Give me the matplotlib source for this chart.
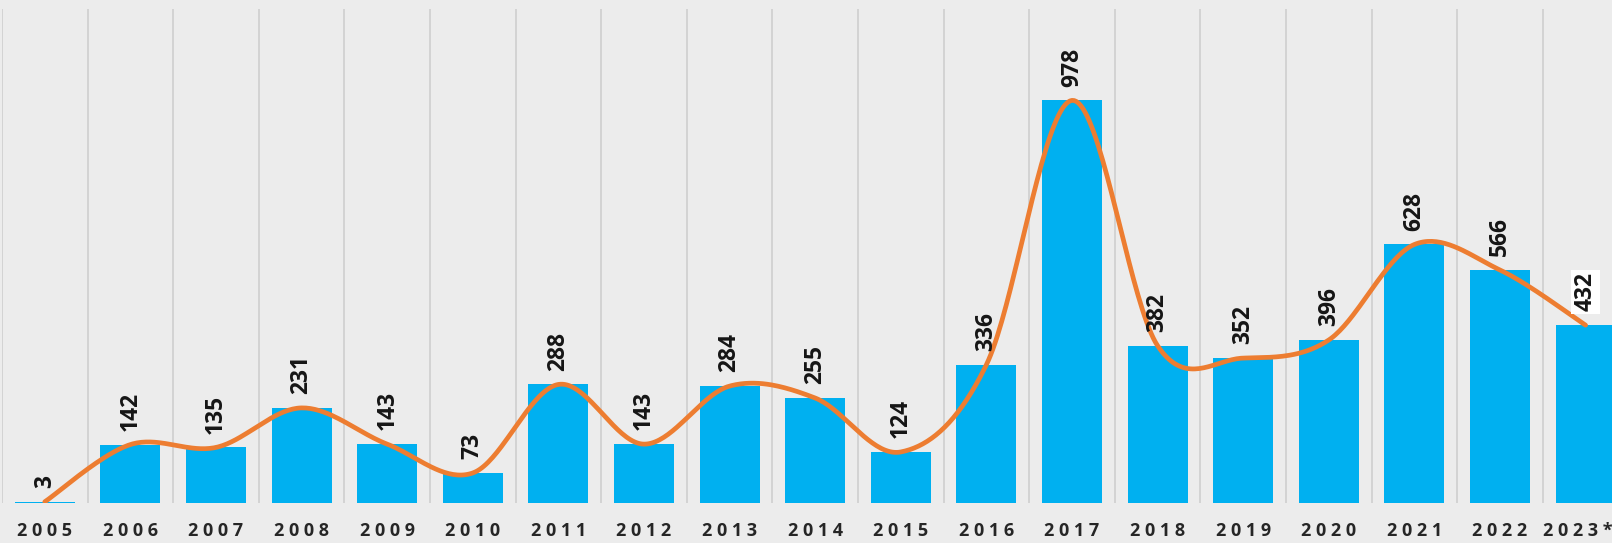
import numpy as np
import matplotlib.pyplot as plt
from matplotlib.transforms import offset_copy

years = ["2005", "2006", "2007", "2008", "2009", "2010", "2011", "2012", "2013", "2014",
         "2015", "2016", "2017", "2018", "2019", "2020", "2021", "2022", "2023*"]
counts = [3, 142, 135, 231, 143, 73, 288, 143, 284, 255,
          124, 336, 978, 382, 352, 396, 628, 566, 432]

bar_color = "#00b0f0"
line_color = "#ed7d31"
bg = "#ececec"
fonts = ["Open Sans", "DejaVu Sans"]


def smooth_line(x, y, steps=40):
    # Excel-like smoothed line: Catmull-Rom segments drawn as cubic Beziers
    x = np.asarray(x, float)
    y = np.asarray(y, float)
    px = np.concatenate([[x[0]], x, [x[-1]]])
    py = np.concatenate([[y[0]], y, [y[-1]]])
    t = np.linspace(0, 1, steps)[:, None]
    xs, ys = [], []
    for i in range(1, len(px) - 2):
        p0 = np.array([px[i], py[i]])
        p3 = np.array([px[i + 1], py[i + 1]])
        c1 = p0 + (p3 - np.array([px[i - 1], py[i - 1]])) / 6
        c2 = p3 - (np.array([px[i + 2], py[i + 2]]) - p0) / 6
        seg = ((1 - t) ** 3) * p0 + 3 * ((1 - t) ** 2) * t * c1 + 3 * (1 - t) * t ** 2 * c2 + t ** 3 * p3
        xs.append(seg[:, 0])
        ys.append(seg[:, 1])
    return np.concatenate(xs), np.concatenate(ys)


fig = plt.figure(figsize=(16.12, 5.43), dpi=100, facecolor=bg)
ax = fig.add_axes([2 / 1612, 40 / 543, 19 * 85.6 / 1612, 494 / 543])
ax.set_facecolor(bg)

x = np.arange(len(years))
ax.bar(x, counts, width=0.7, color=bar_color, zorder=2)

sx, sy = smooth_line(x, counts)
ax.plot(sx, sy, color=line_color, linewidth=3.4, zorder=3, solid_capstyle="round")

for i, v in enumerate(counts):
    kw = {}
    if i == len(counts) - 1:
        kw["bbox"] = dict(boxstyle="square,pad=0.1", fc="white", ec="none")
    ax.annotate(str(v), (x[i], v), xytext=(0, 10), textcoords="offset points",
                rotation=90, ha="center", va="bottom", fontsize=16.5,
                fontweight="bold", family=fonts, color="#151515",
                zorder=4, **kw)

for b in np.arange(-0.5, len(years), 1.0):
    ax.axvline(b, color="#cfcfcf", linewidth=1.2, zorder=1)

ax.set_xlim(-0.5, len(years) - 0.5)
ax.set_ylim(0, 1200)
ax.set_xticks(x)
ax.set_xticklabels([" ".join(list(y)) for y in years], fontsize=13, fontweight="bold",
                   family=fonts, color="#262626")
ax.tick_params(axis="x", length=0, pad=14)
# last label sits at the right edge; nudge it inward so it stays whole
last = ax.get_xticklabels()[-1]
last.set_transform(offset_copy(last.get_transform(), fig=fig, x=-8, units="dots"))
ax.set_yticks([])
for s in ax.spines.values():
    s.set_visible(False)

fig.savefig("out.png", dpi=100, facecolor=bg)
